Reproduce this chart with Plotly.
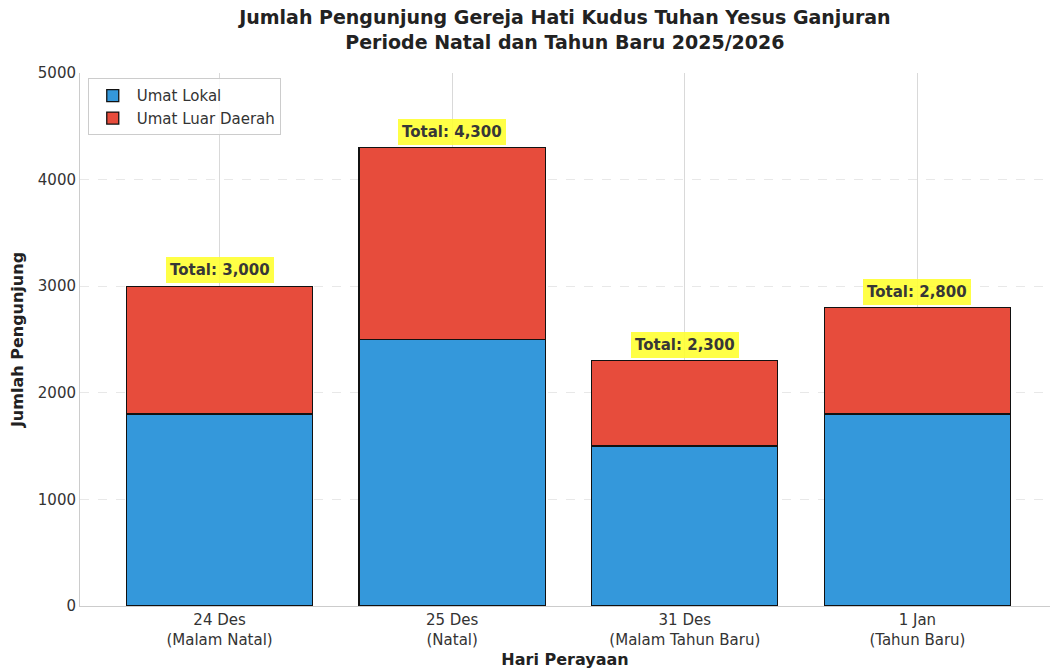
import plotly.graph_objects as go

categories = ["24 Des<br>(Malam Natal)", "25 Des<br>(Natal)", "31 Des<br>(Malam Tahun Baru)", "1 Jan<br>(Tahun Baru)"]
umat_lokal = [1800, 2500, 1500, 1800]
umat_luar = [1200, 1800, 800, 1000]
totals = [a + b for a, b in zip(umat_lokal, umat_luar)]

FONT = "DejaVu Sans"
x = list(range(len(categories)))

fig = go.Figure()
fig.add_trace(go.Bar(x=x, y=umat_lokal, name="Umat Lokal", marker=dict(color="#3498db", line=dict(color="#111", width=1.3)), width=0.8))
fig.add_trace(go.Bar(x=x, y=umat_luar, name="Umat Luar Daerah", marker=dict(color="#e74c3c", line=dict(color="#111", width=1.3)), width=0.8))

for xi, t in zip(x, totals):
    fig.add_annotation(x=xi, y=t, text=f"<b>Total: {t:,}</b>", showarrow=False, yshift=16,
                       font=dict(family=FONT, size=15, color="#222"), bgcolor="#ffff33",
                       borderpad=3, bordercolor="#ffff33", opacity=0.9)

fig.update_layout(
    width=1051, height=672,
    barmode="stack",
    paper_bgcolor="white", plot_bgcolor="white",
    margin=dict(l=80, r=1, t=73, b=66),
    font=dict(family=FONT, size=15, color="#333"),
    title=dict(text="<b>Jumlah Pengunjung Gereja Hati Kudus Tuhan Yesus Ganjuran<br>Periode Natal dan Tahun Baru 2025/2026</b>",
               x=0.5375, xanchor="center", yref="container", y=0.9645, yanchor="middle",
               font=dict(family=FONT, size=19, color="#222")),
    legend=dict(x=0.008, y=0.99, xanchor="left", yanchor="top", bgcolor="rgba(255,255,255,0.85)",
                bordercolor="#ccc", borderwidth=1, font=dict(family=FONT, size=15, color="#333"),
                traceorder="normal", itemwidth=38),
    bargap=0.2,
)
fig.update_xaxes(range=[-0.6, 3.57], tickvals=x, ticktext=categories, showgrid=True, gridcolor="#d9d9d9",
                 gridwidth=1, showline=True, linecolor="#ccc", mirror=False, ticks="",
                 title=dict(text="<b>Hari Perayaan</b>", font=dict(family=FONT, size=16, color="#222"), standoff=6),
                 tickfont=dict(family=FONT, size=15, color="#333"), zeroline=False)
fig.update_yaxes(range=[0, 5000], tickvals=[0, 1000, 2000, 3000, 4000, 5000], showgrid=True,
                 gridcolor="#e8e8e8", griddash="dash", gridwidth=1, showline=True, linecolor="#ccc",
                 ticks="", zeroline=False,
                 title=dict(text="<b>Jumlah Pengunjung</b>", font=dict(family=FONT, size=16, color="#222"), standoff=10),
                 tickfont=dict(family=FONT, size=15, color="#333"))
fig.write_html("out.html")
